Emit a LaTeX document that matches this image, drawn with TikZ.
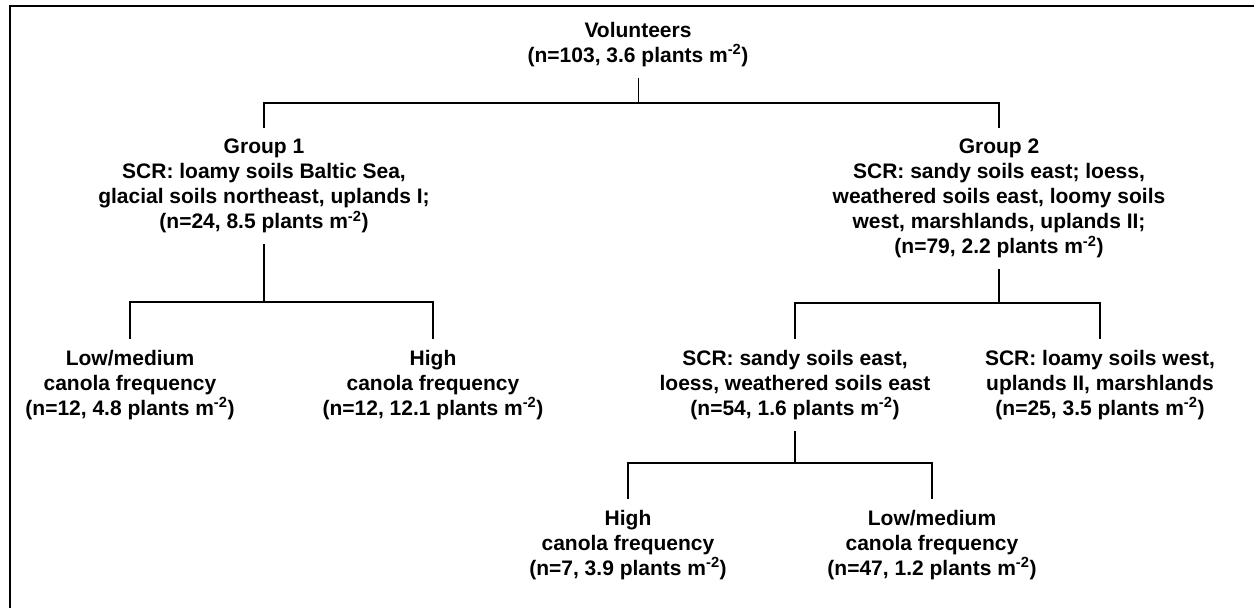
\documentclass[tikz,border=0pt]{standalone}
\usepackage{fontspec}
\setmainfont{Liberation Sans}
\newcommand{\pldens}[1]{#1 plants m\textsuperscript{-2}}

\begin{document}
\begin{tikzpicture}[x=1pt,y=-1pt,
box/.style={align=center, inner sep=0pt, outer sep=0pt, outer ysep=11pt, anchor=north, font=\fontsize{21}{25}\selectfont\bfseries},
link/.style={line width=1.8pt}]
\useasboundingbox (0,0) rectangle (1254,608);
\draw[line width=2.2pt] (10,608) -- (10,6) -- (1254,6);

\node[box] (vol) at (638,11) {Volunteers\\(n=103, \pldens{3.6})};
\node[box] (grp1) at (264,128) {Group 1\\SCR: loamy soils Baltic Sea,\\glacial soils northeast, uplands I;\\(n=24, \pldens{8.5})};
\node[box] (grp2) at (999,128) {Group 2\\SCR: sandy soils east; loess,\\weathered soils east, loomy soils\\west, marshlands, uplands II;\\(n=79, \pldens{2.2})};
\node[box] (g1low) at (130,339) {Low/medium\\canola frequency\\(n=12, \pldens{4.8})};
\node[box] (g1high) at (433,339) {High\\canola frequency\\(n=12, \pldens{12.1})};
\node[box] (scre) at (795,339) {SCR: sandy soils east,\\loess, weathered soils east\\(n=54, \pldens{1.6})};
\node[box] (scrw) at (1100,339) {SCR: loamy soils west,\\uplands II, marshlands\\(n=25, \pldens{3.5})};
\node[box] (eahigh) at (628,499) {High\\canola frequency\\(n=7, \pldens{3.9})};
\node[box] (ealow) at (932,499) {Low/medium\\canola frequency\\(n=47, \pldens{1.2})};

\coordinate (bar0) at (638,103);
\coordinate (bar1) at (264,302);
\coordinate (bar2) at (999,303);
\coordinate (bar3) at (795,463);

\draw[link, line width=1pt] (vol.south) -- (bar0);
\draw[link] (grp1.north) |- (bar0) -| (grp2.north);
\draw[link] (grp1.south) -- (bar1);
\draw[link] (g1low.north) |- (bar1) -| (g1high.north);
\draw[link] (grp2.south) -- (bar2);
\draw[link] (scre.north) |- (bar2) -| (scrw.north);
\draw[link] (scre.south) -- (bar3);
\draw[link] (eahigh.north) |- (bar3) -| (ealow.north);
\end{tikzpicture}
\end{document}
